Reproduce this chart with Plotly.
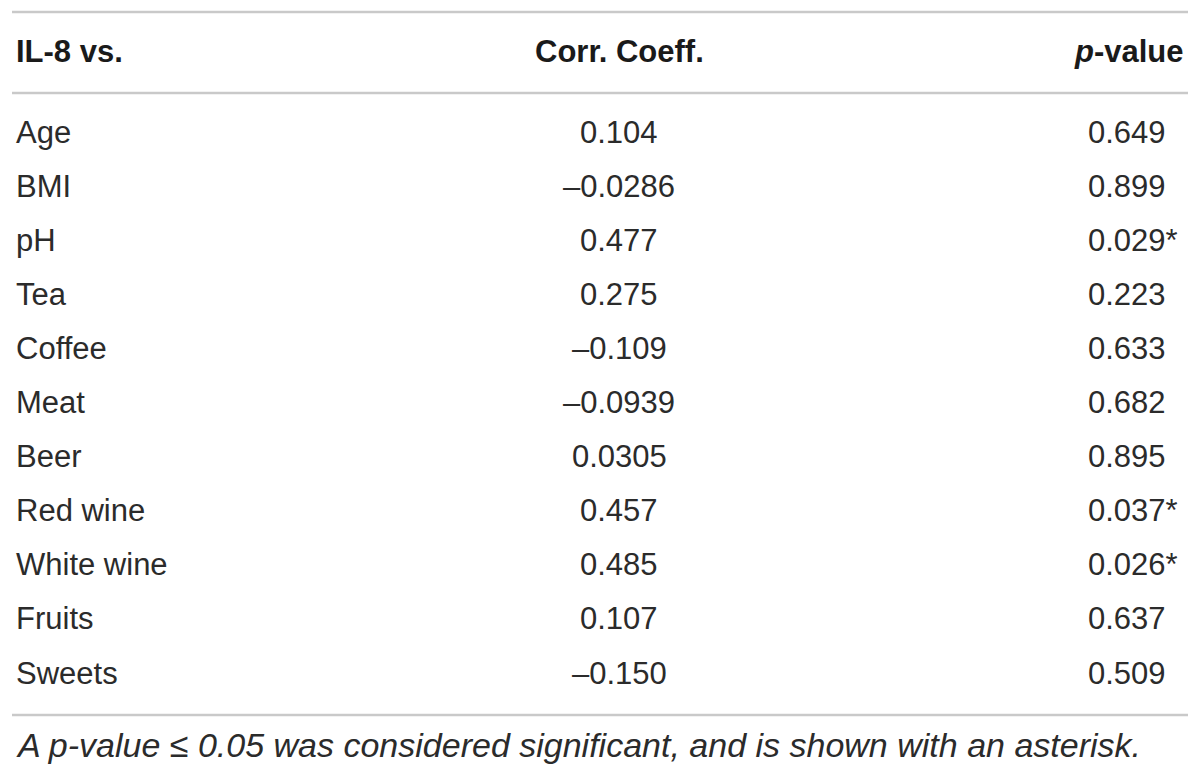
"""Correlation table: IL-8 vs. lifestyle variables."""
import plotly.graph_objects as go

VARIABLES = ["Age", "BMI", "pH", "Tea", "Coffee", "Meat", "Beer",
             "Red wine", "White wine", "Fruits", "Sweets"]
CORR_COEFF = ["0.104", "\u20130.0286", "0.477", "0.275", "\u20130.109", "\u20130.0939",
              "0.0305", "0.457", "0.485", "0.107", "\u20130.150"]
P_VALUES = ["0.649", "0.899", "0.029*", "0.223", "0.633", "0.682",
            "0.895", "0.037*", "0.026*", "0.637", "0.509"]
HEADERS = ["<b>IL-8 vs.</b>", "<b>Corr. Coeff.</b>", "<b><i>p</i>-value</b>"]
FOOTNOTE = "<i>A p-value \u2264 0.05 was considered significant, and is shown with an asterisk.</i>"

W, H = 1200, 777
PAGE_MARGIN = 8  # browser body margin; axes are set so data units == screen pixels
FONT = "Liberation Sans"
TEXT_COLOR = "#2b2b2b"
HEAD_COLOR = "#1a1a1a"
RULE_COLOR = "#c9c9c9"

ROW0, ROW_H = 132, 54.1
HEADER_Y = 51
COL_LABEL, COL_CORR, COL_P, COL_RIGHT = 14, 619, 1086, 1186

fig = go.Figure()

cell_font = dict(family=FONT, size=31, color=TEXT_COLOR, weight=300)
head_font = dict(family=FONT, size=31, color=HEAD_COLOR)

annotations = []
annotations.append(dict(x=COL_LABEL, y=HEADER_Y, text=HEADERS[0], xanchor="left", font=head_font))
annotations.append(dict(x=COL_CORR, y=HEADER_Y, text=HEADERS[1], xanchor="center", font=head_font))
annotations.append(dict(x=COL_RIGHT, y=HEADER_Y, text=HEADERS[2], xanchor="right", font=head_font))

for i, (var, cc, pv) in enumerate(zip(VARIABLES, CORR_COEFF, P_VALUES)):
    y = ROW0 + i * ROW_H
    annotations.append(dict(x=COL_LABEL, y=y, text=var, xanchor="left", font=cell_font))
    annotations.append(dict(x=COL_CORR, y=y, text=cc, xanchor="center", font=cell_font))
    annotations.append(dict(x=COL_P, y=y, text=pv, xanchor="left", font=cell_font))

annotations.append(dict(x=COL_LABEL, y=745, text=FOOTNOTE, xanchor="left",
                        font=dict(family=FONT, size=34, color=TEXT_COLOR)))

for a in annotations:
    a.update(xref="x", yref="y", yanchor="middle", showarrow=False)

shapes = []
for y in [12, 93, 715]:
    shapes.append(dict(type="line", xref="x", yref="y", x0=12, x1=1188, y0=y, y1=y,
                       line=dict(color=RULE_COLOR, width=2.5)))

fig.update_layout(
    width=W - 2 * PAGE_MARGIN, height=H - 2 * PAGE_MARGIN,
    margin=dict(l=0, r=0, t=0, b=0),
    paper_bgcolor="white", plot_bgcolor="white",
    xaxis=dict(range=[PAGE_MARGIN, W - PAGE_MARGIN], visible=False, fixedrange=True),
    yaxis=dict(range=[H - PAGE_MARGIN, PAGE_MARGIN], visible=False, fixedrange=True),
    annotations=annotations,
    shapes=shapes,
    showlegend=False,
)

fig.write_html("out.html")
